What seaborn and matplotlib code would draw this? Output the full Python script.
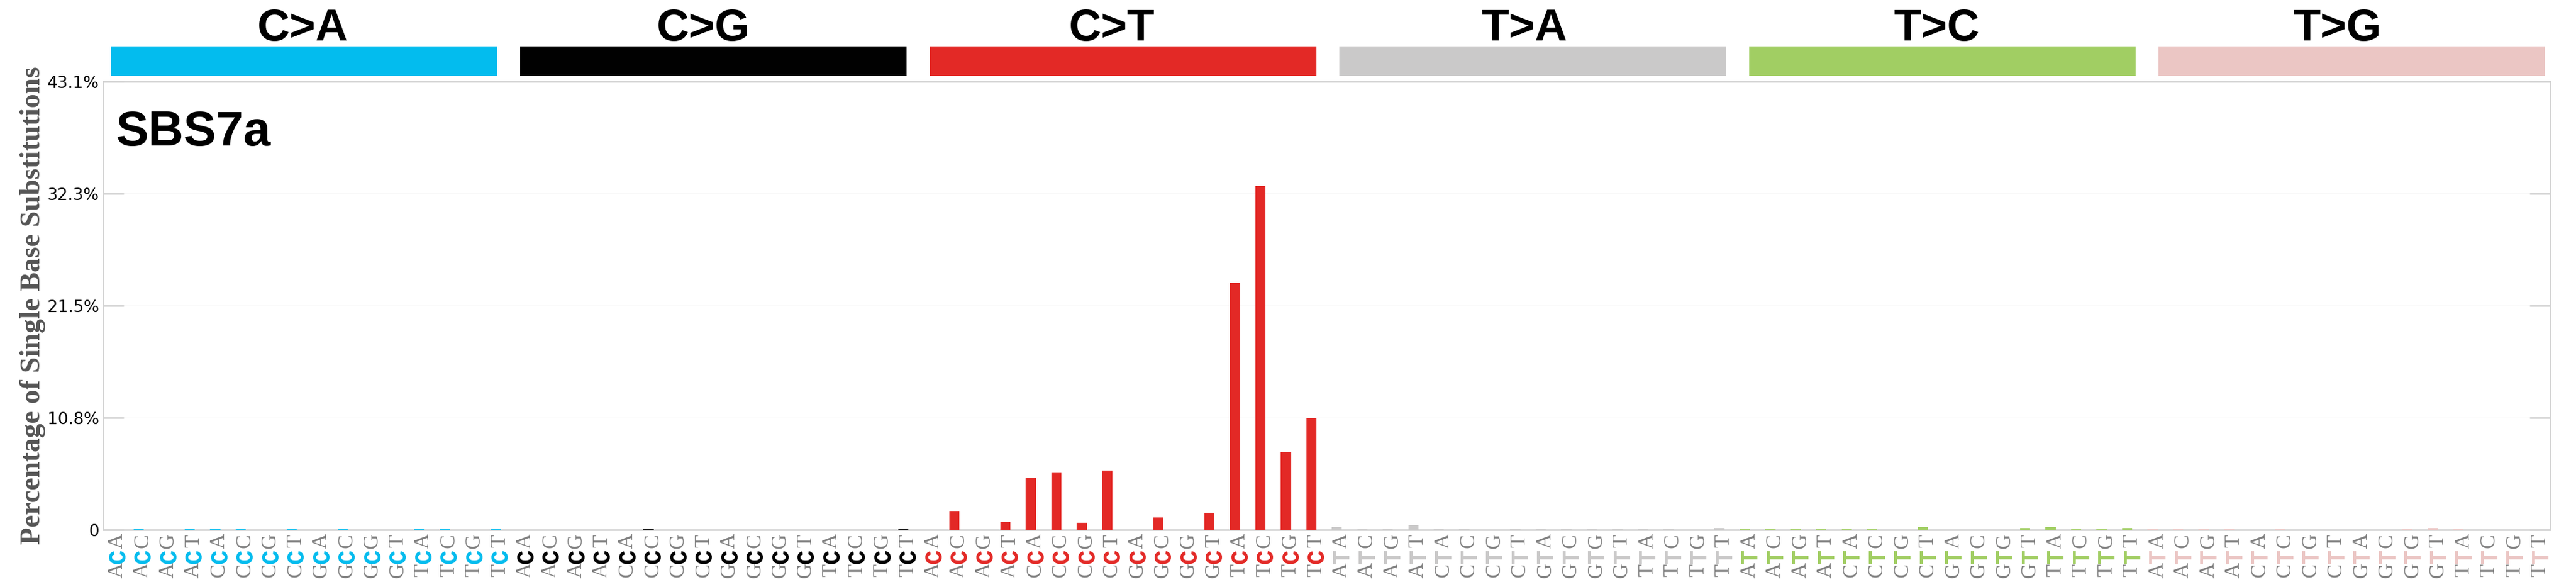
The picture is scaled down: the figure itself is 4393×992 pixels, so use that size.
import numpy as np
import pandas as pd
import seaborn as sns
import matplotlib
matplotlib.use("Agg")
import matplotlib.pyplot as plt

# %% data
signature = "SBS7a"
mutTypes = ["C>A", "C>G", "C>T", "T>A", "T>C", "T>G"]
bases = ["A", "C", "G", "T"]
colors = [[3/256, 189/256, 239/256], [1/256, 1/256, 1/256], [228/256, 41/256, 38/256],
          [203/256, 202/256, 202/256], [162/256, 207/256, 99/256], [236/256, 199/256, 197/256]]
# percent per context, order 5'A..T x 3'A..T inside each substitution type
valsCA = [0, 0.04, 0, 0.04, 0.04, 0.04, 0, 0.04, 0, 0.04, 0, 0, 0.04, 0.04, 0, 0.04]
valsCG = [0, 0, 0, 0, 0, 0.05, 0, 0, 0, 0, 0, 0, 0, 0, 0, 0.05]
valsCT = [0, 1.79, 0, 0.71, 4.99, 5.50, 0.66, 5.67, 0, 1.17, 0, 1.61, 23.76, 33.07, 7.43, 10.68]
valsTA = [0.24, 0.04, 0.04, 0.41, 0.04, 0.04, 0, 0.04, 0.04, 0.04, 0.04, 0.04, 0.04, 0.04, 0, 0.13]
valsTC = [0.04, 0.04, 0.04, 0.04, 0.04, 0.04, 0, 0.24, 0, 0, 0, 0.13, 0.24, 0.04, 0.04, 0.13]
valsTG = [0.04, 0.04, 0.04, 0.04, 0, 0.04, 0, 0, 0, 0, 0.04, 0.13, 0.04, 0, 0, 0]
yTop = 43.1
yLabels = ["0", "10.8%", "21.5%", "32.3%", "43.1%"]

# %% table
contexts = []
types = []
for m in mutTypes:
    for b5 in bases:
        for b3 in bases:
            contexts.append(b5 + m[0] + b3)
            types.append(m)
df = pd.DataFrame({"context": [c[0] + "[" + t + "]" + c[2] for c, t in zip(contexts, types)],
                   "type": types,
                   "pct": valsCA + valsCG + valsCT + valsTA + valsTC + valsTG})

# %% plot
plt.rc('axes', edgecolor='lightgray', linewidth=2)
fig = plt.figure(figsize=(43.93, 9.92), dpi=100)
ax = fig.add_axes([0.04, 0.09, 0.95, 0.77])
sns.barplot(data=df, x="context", y="pct", hue="type", palette=colors, hue_order=mutTypes,
            width=0.4, saturation=1, errorbar=None, legend=False, dodge=False,
            linewidth=0, zorder=1000, ax=ax)
ax.set_xlim(-0.4, 95.6)
ax.set_ylim(0, yTop)
ax.set_yticks(np.linspace(0, yTop, 5))
ax.set_yticklabels(yLabels, fontsize=20)
ax.yaxis.grid(True, color=[0.93, 0.93, 0.93], zorder=1)
ax.set_xlabel('')
ax.set_ylabel("Percentage of Single Base Substitutions", fontsize=35, family=['Liberation Serif', 'DejaVu Serif'],
              weight='bold', color='#555555')
ax.yaxis.set_label_coords(-0.0235, 0.5)
ax.tick_params(axis='both', which='both', bottom=False, labelbottom=False, left=True, labelleft=True,
               right=True, labelright=False, top=False, labeltop=False, direction='in', length=25,
               colors='lightgray', width=2, labelcolor='black', pad=5)

# substitution header boxes
x = .043
for i, m in enumerate(mutTypes):
    fig.patches.append(plt.Rectangle((x, .87), .15, .05, facecolor=colors[i], transform=fig.transFigure, figure=fig))
    x += .159
for xt, m in zip([.1, .255, .415, .575, .735, .89], mutTypes):
    fig.text(xt, .93, m, fontsize=55, fontweight='bold', family='Liberation Sans')

fig.text(.045, .75, signature, fontsize=60, weight='bold', color='black', family='Liberation Sans')

# context letters
for i, c in enumerate(contexts):
    col = colors[i // 16]
    fig.text(i/101 + .0418, .02, c[0], fontsize=26, color='gray', rotation='vertical', va='center', family='Liberation Serif')
    fig.text(i/101 + .0415, .044, c[1], fontsize=30, color=col, rotation='vertical', va='center', family='Liberation Mono', fontweight='bold')
    fig.text(i/101 + .0418, .071, c[2], fontsize=26, color='gray', rotation='vertical', va='center', family='Liberation Serif')

fig.savefig("out.png", dpi=100)
plt.close()
